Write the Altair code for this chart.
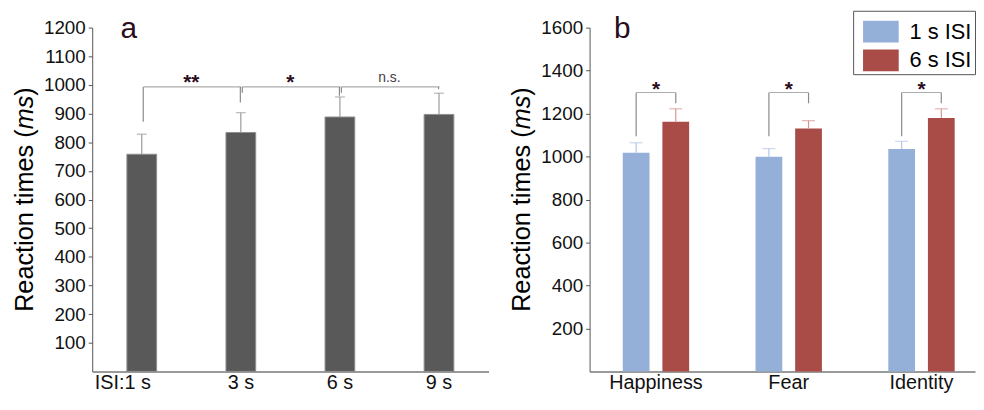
import altair as alt
import pandas as pd

FONT = "Liberation Sans"

# ---- panel a: reaction times per ISI ----
isi_labels = ["ISI:1 s", "3 s", "6 s", "9 s"]
rt_mean = [758, 834, 888, 897]
rt_upper = [828, 903, 958, 971]  # top of the error bars

# significance brackets between neighbouring ISIs
pair_left = ["ISI:1 s", "3 s", "6 s"]
pair_right = ["3 s", "6 s", "9 s"]
pair_top = [993, 993, 993]
pair_left_end = [871, 973, 973]
pair_right_end = [939, 962, 985]
pair_sig = ["**", "*", "n.s."]

# ---- panel b: reaction times per task and ISI ----
emotions = ["Happiness", "Fear", "Identity"]
isi_groups = ["1 s ISI", "6 s ISI"]
rt_1s = [1018, 999, 1035]
rt_6s = [1162, 1130, 1179]
upper_1s = [1064, 1037, 1071]
upper_6s = [1222, 1167, 1222]
sig_b = ["*", "*", "*"]
top_b = [1298, 1298, 1298]
left_end_b = [1094, 1094, 1094]
right_end_b = [1248, 1248, 1248]

ticks_a = list(range(100, 1300, 100))
ticks_b = list(range(200, 1700, 200))

BRACKET = "#8a8a8a"
STAR = "#2b0c1c"
ERR_GRAY = "#9a9a9a"
H = 347


def y_title():
    # "Reaction times (ms)" with italic ms -> three rotated text pieces,
    # centred on the plot height (piece lengths from Arial metrics at 25.5px)
    one = pd.DataFrame({"t": [0]})
    bottom = H / 2 + 113.4
    pieces = [("Reaction times (", "normal", bottom),
              ("ms", "italic", bottom - 184.2),
              (")", "normal", bottom - 218.2)]
    out = []
    for txt, style, pos in pieces:
        out.append(alt.Chart(one).mark_text(
            text=txt, font=FONT, fontSize=25.5, fontStyle=style, angle=270,
            align="left", baseline="middle", color="black"
        ).encode(x=alt.value(-68), y=alt.value(pos)))
    return out


def panel_letter(letter, xpos):
    one = pd.DataFrame({"t": [letter]})
    return alt.Chart(one).mark_text(
        font=FONT, fontSize=30, align="center", baseline="alphabetic", color=STAR
    ).encode(x=alt.value(xpos), y=alt.value(10), text="t:N")


def y_axis(values):
    return alt.Axis(values=values, format="d", labelOverlap=False, grid=False,
                    domainColor="#555555", tickColor="#555555",
                    tickSize=4, labelFontSize=19, labelPadding=3, labelColor="#111111")


def x_axis(**kw):
    return alt.Axis(labelAngle=0, ticks=False, domainColor="#9a9a9a", domainWidth=2,
                    labelFontSize=20, labelPadding=1, labelColor="#111111", **kw)


def y_enc(field, top, values):
    # every layer carries the same y scale and axis so the merge is clean
    return alt.Y(field, type="quantitative", title=None,
                 scale=alt.Scale(domain=[0, top], nice=False), axis=y_axis(values))


########## panel a ##########
df_a = pd.DataFrame({"isi": isi_labels, "rt": rt_mean, "upper": rt_upper})
df_pairs = pd.DataFrame({"left": pair_left, "right": pair_right, "top": pair_top,
                         "lend": pair_left_end, "rend": pair_right_end, "sig": pair_sig})


def xa(field):
    return alt.X(field, type="nominal", sort=isi_labels, title=None)


def ya(field):
    return y_enc(field, 1200, ticks_a)


bars_a = alt.Chart(df_a).mark_bar(color="#595959", stroke="#8f8f8f", strokeWidth=1).encode(
    x=alt.X("isi:N", sort=isi_labels, title=None,
            scale=alt.Scale(domain=isi_labels, paddingInner=0.7, paddingOuter=0.35),
            axis=x_axis(labelOffset={"condition": {"test": "datum.value == 'ISI:1 s'", "value": -19}, "value": 0})),
    y=ya("rt"),
)
err_a = alt.Chart(df_a).mark_rule(color=ERR_GRAY, strokeWidth=1.2).encode(
    x=xa("isi"), y=ya("rt"), y2="upper:Q")
cap_a = alt.Chart(df_a).mark_tick(color=ERR_GRAY, size=10, thickness=1.2).encode(
    x=xa("isi"), y=ya("upper"))

span_a = alt.Chart(df_pairs).mark_tick(color=BRACKET, size=99, thickness=1.2, xOffset=51).encode(
    x=xa("left"), y=ya("top"))
lleg_a = alt.Chart(df_pairs).mark_rule(color=BRACKET, strokeWidth=1.2, xOffset=1.5).encode(
    x=xa("left"), y=ya("top"), y2="lend:Q")
rleg_a = alt.Chart(df_pairs).mark_rule(color=BRACKET, strokeWidth=1.2, xOffset=-0.5).encode(
    x=xa("right"), y=ya("top"), y2="rend:Q")
stars_a = alt.Chart(df_pairs).transform_filter("datum.sig != 'n.s.'").mark_text(
    dx=-50, dy=2, fontSize=21, fontWeight="bold", color=STAR, baseline="alphabetic", font=FONT
).encode(x=xa("right"), y=ya("top"), text="sig:N")
ns_a = alt.Chart(df_pairs).transform_filter("datum.sig == 'n.s.'").mark_text(
    dx=-50, dy=-4.5, fontSize=14, color="#4a3a46", baseline="alphabetic", font=FONT
).encode(x=xa("right"), y=ya("top"), text="sig:N")

panel_a = alt.layer(
    bars_a, err_a, cap_a, span_a, lleg_a, rleg_a, stars_a, ns_a,
    panel_letter("a", 37), *y_title()
).properties(width=400, height=H)

########## panel b ##########
df_b = pd.DataFrame({
    "emotion": emotions * 2,
    "isi": [isi_groups[0]] * 3 + [isi_groups[1]] * 3,
    "rt": rt_1s + rt_6s,
    "upper": upper_1s + upper_6s,
})
df_pb = pd.DataFrame({"emotion": emotions, "lisi": isi_groups[0], "risi": isi_groups[1],
                      "top": top_b, "lend": left_end_b, "rend": right_end_b, "sig": sig_b})


def xb():
    return alt.X("emotion:N", sort=emotions, title=None)


def yb(field):
    return y_enc(field, 1600, ticks_b)


def off(field):
    return alt.XOffset(field, type="nominal", sort=isi_groups)


err_color = alt.condition("datum.isi == '1 s ISI'", alt.value("#b3c6e6"), alt.value("#d69592"))

bars_b = alt.Chart(df_b).mark_bar().encode(
    x=alt.X("emotion:N", sort=emotions, title=None,
            scale=alt.Scale(domain=emotions, paddingInner=0.5, paddingOuter=0.2015, align=0.62),
            axis=x_axis()),
    xOffset=alt.XOffset("isi:N", sort=isi_groups,
                        scale=alt.Scale(domain=isi_groups, paddingInner=0.325, paddingOuter=0)),
    y=yb("rt"),
    color=alt.Color("isi:N", sort=isi_groups,
                    scale=alt.Scale(domain=isi_groups, range=["#95b0d8", "#a94b46"]),
                    legend=alt.Legend(title=None, orient="none", legendX=768, legendY=-17,
                                      direction="vertical",
                                      symbolType="M-1,-0.611H1V0.611H-1Z", symbolSize=1296,
                                      symbolStrokeWidth=0, symbolOpacity=1, symbolOffset=7,
                                      labelFontSize=22, labelColor="black", labelOffset=11,
                                      rowPadding=-9, padding=3,
                                      strokeColor="#555555", fillColor="white")),
)
err_b = alt.Chart(df_b).mark_rule(strokeWidth=1.2).encode(
    x=xb(), xOffset=off("isi"), y=yb("rt"), y2="upper:Q", color=err_color)
cap_b = alt.Chart(df_b).mark_tick(size=13, thickness=1.2).encode(
    x=xb(), xOffset=off("isi"), y=yb("upper"), color=err_color)

span_b = alt.Chart(df_pb).mark_tick(color=BRACKET, size=39, thickness=1.2).encode(
    x=xb(), y=yb("top"))
lleg_b = alt.Chart(df_pb).mark_rule(color=BRACKET, strokeWidth=1.2).encode(
    x=xb(), xOffset=off("lisi"), y=yb("top"), y2="lend:Q")
rleg_b = alt.Chart(df_pb).mark_rule(color=BRACKET, strokeWidth=1.2).encode(
    x=xb(), xOffset=off("risi"), y=yb("top"), y2="rend:Q")
stars_b = alt.Chart(df_pb).mark_text(
    dy=4, fontSize=21, fontWeight="bold", color=STAR, baseline="alphabetic", font=FONT
).encode(x=xb(), y=yb("top"), text="sig:N")

panel_b = alt.layer(
    bars_b, err_b, cap_b, span_b, lleg_b, rleg_b, stars_b,
    panel_letter("b", 33), *y_title()
).properties(width=389, height=H)

chart = alt.hconcat(panel_a, panel_b, spacing=22).properties(
    padding={"left": 5, "top": 0, "right": 0, "bottom": 0}
).configure_view(
    stroke=None
).configure_axis(
    labelFont=FONT, labelOverlap=False
).configure_legend(
    labelFont=FONT
)

chart.save("out.html", embed_options={"renderer": "svg", "actions": False})
